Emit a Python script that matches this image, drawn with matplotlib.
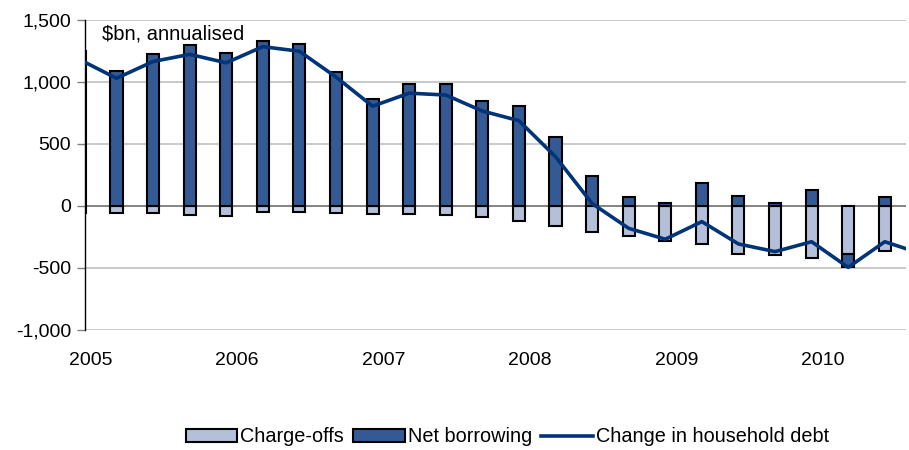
import numpy as np
import matplotlib
matplotlib.use("Agg")
import matplotlib.pyplot as plt
from matplotlib.ticker import FuncFormatter

# quarterly data, 2004 Q4 .. 2010 Q3 (first bar is cut by the axis)
quarters = ["2004Q4",
            "2005Q1", "2005Q2", "2005Q3", "2005Q4",
            "2006Q1", "2006Q2", "2006Q3", "2006Q4",
            "2007Q1", "2007Q2", "2007Q3", "2007Q4",
            "2008Q1", "2008Q2", "2008Q3", "2008Q4",
            "2009Q1", "2009Q2", "2009Q3", "2009Q4",
            "2010Q1", "2010Q2"]
charge_offs = [-60, -60, -60, -75, -80, -45, -50, -60, -65, -65, -70, -85,
               -120, -165, -210, -245, -285, -305, -385, -395, -420, -390, -365]
net_borrowing = [1250, 1085, 1225, 1300, 1230, 1330, 1305, 1080, 865, 980, 980, 850,
                 810, 555, 240, 75, 25, 185, 80, 25, 130, -105, 75]
# line runs one quarter further than the bars (off the right edge)
household_debt = [1180, 1030, 1165, 1223, 1155, 1285, 1248, 1040, 805, 910, 895, 766,
                  688, 398, 20, -180, -268, -126, -306, -368, -288, -495, -288, -385]
year_labels = ["2005", "2006", "2007", "2008", "2009", "2010"]

light = "#B4C0DA"
dark = "#335A94"
navy = "#003478"

plt.rcParams["font.family"] = ["Liberation Sans", "DejaVu Sans"]

fig = plt.figure(figsize=(9.09, 4.5), dpi=100)
ax = fig.add_axes([85 / 909, 1 - 330 / 450, (906 - 85) / 909, 310 / 450])

x = np.arange(len(quarters))
width = 0.33
co = ax.bar(x, charge_offs, width, color=light, edgecolor="black", linewidth=1.5,
            label="Charge-offs", zorder=3)
nb = np.array(net_borrowing, dtype=float)
bottoms = np.where(nb < 0, np.array(charge_offs, dtype=float), 0)
nbb = ax.bar(x, nb, width, bottom=bottoms, color=dark, edgecolor="black", linewidth=1.5,
             label="Net borrowing", zorder=3)
ln, = ax.plot(np.arange(len(household_debt)), household_debt, color=navy, linewidth=2.6,
              label="Change in household debt", zorder=4)

ax.set_xlim(0.14, 22.58)
ax.set_ylim(-1000, 1500)
ax.set_yticks(np.arange(-1000, 1501, 500))
ax.yaxis.set_major_formatter(FuncFormatter(lambda v, p: f"{v:,.0f}"))
ax.set_xticks(np.arange(len(year_labels)) * 4 + 0.3)
ax.set_xticklabels(year_labels)
ax.tick_params(axis="x", length=0, pad=16, labelsize=14)
ax.tick_params(axis="y", length=6, width=1, color="#808080", labelsize=14, pad=4)

ax.grid(axis="y", color="#C0C0C0", linewidth=1.2, zorder=0)
ax.axhline(0, color="#808080", linewidth=1.3, zorder=2)
for s in ["top", "right", "bottom"]:
    ax.spines[s].set_visible(False)
ax.spines["left"].set_color("black")
ax.spines["left"].set_linewidth(1)

ax.text((102 - 85) / 821, (330 - 34) / 310, "$bn, annualised", transform=ax.transAxes,
        fontsize=14.5, va="center", ha="left")

fig.legend([co, nbb, ln], ["Charge-offs", "Net borrowing", "Change in household debt"],
           loc="center", bbox_to_anchor=(0.558, 1 - 437 / 450), ncol=3, frameon=False,
           fontsize=14.3, handlelength=2.6, handleheight=0.65, handletextpad=0.15,
           columnspacing=0.45, borderpad=0, borderaxespad=0)

fig.savefig("out.png", dpi=100)
